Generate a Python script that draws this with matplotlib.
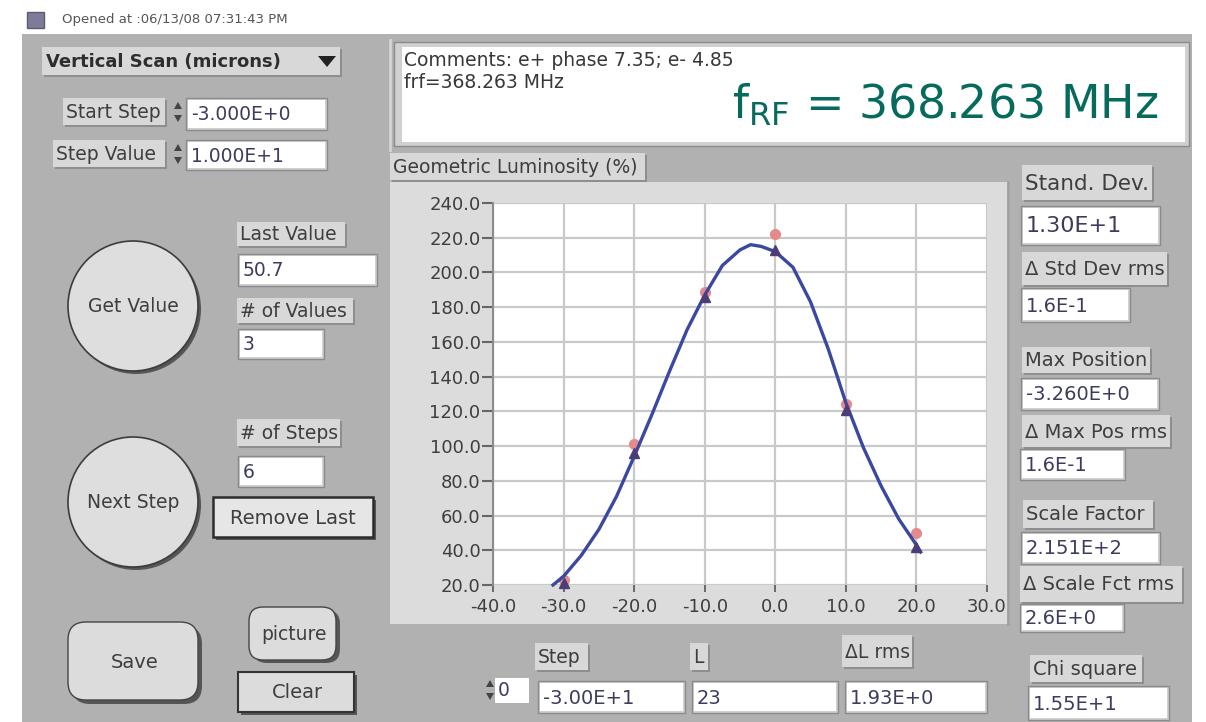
#!/usr/bin/env python3
import matplotlib
matplotlib.use("Agg")
import matplotlib.pyplot as plt
from matplotlib.patches import Rectangle, Circle, FancyBboxPatch, Polygon

plt.rcParams['font.family'] = ['DejaVu Sans']
plt.rcParams['axes.unicode_minus'] = False

# scan data
step_pos   = [-30, -20, -10, 0, 10, 20]
lum_meas   = [23, 101, 189, 222, 124, 50]    # red circles
lum_points = [21, 96, 186, 213, 121, 42]     # dark triangles

# fitted curve
fit_x = [-31.5, -30, -27.5, -25, -22.5, -20, -17.5, -15, -12.5, -10, -7.5, -5,
         -3.5, -2, 0, 2.5, 5, 7.5, 10, 12.5, 15, 17.5, 20, 20.6]
fit_y = [20, 25, 37, 52, 71, 94, 118, 143, 167, 187, 204, 213,
         216, 215, 212, 203, 183, 156, 125, 99, 77, 58, 43, 39]

x_ticks = [-40, -30, -20, -10, 0, 10, 20, 30]
y_ticks = [20, 40, 60, 80, 100, 120, 140, 160, 180, 200, 220, 240]

GRAY = '#b1b1b1'
LABEL = '#d8d8d8'
TXT = '#3e3e3e'
VAL = '#3c3c5e'
FS = 13.5


def label_box(ax, x0, y0, x1, y1, text, fs=FS):
    ax.add_patch(Rectangle((x0 + 2, y0 + 2), x1 - x0, y1 - y0, fc='#8e8e8e', ec='none'))
    box = Rectangle((x0, y0), x1 - x0, y1 - y0, fc=LABEL, ec='none')
    ax.add_patch(box)
    t = ax.text(x0 + 3, (y0 + y1) / 2 + 1, text, fontsize=fs, color=TXT, ha='left', va='center')
    t.set_clip_path(box)


def field(ax, x0, y0, x1, y1, text, fs=FS):
    ax.add_patch(Rectangle((x0 - 2, y0 - 2), x1 - x0 + 4, y1 - y0 + 4, fc='#d0d0d0', ec='#8a8a8a', lw=1))
    box = Rectangle((x0, y0), x1 - x0, y1 - y0, fc='white', ec='none')
    ax.add_patch(box)
    t = ax.text(x0 + 3, (y0 + y1) / 2 + 1, text, fontsize=fs, color=VAL, ha='left', va='center')
    t.set_clip_path(box)


def spinner(ax, x, yc):
    ax.add_patch(Polygon([[x, yc - 3], [x + 8, yc - 3], [x + 4, yc - 10]], closed=True, fc='#444', ec='none'))
    ax.add_patch(Polygon([[x, yc + 3], [x + 8, yc + 3], [x + 4, yc + 10]], closed=True, fc='#444', ec='none'))


fig = plt.figure(figsize=(12.06, 7.22), dpi=100)
fig.patch.set_facecolor('white')
ui = fig.add_axes([0, 0, 1, 1])
ui.set_xlim(0, 1206)
ui.set_ylim(722, 0)
ui.axis('off')

# header strip
ui.add_patch(Rectangle((27, 12), 17, 16, fc='#7c7c98', ec='#5a5a70', lw=1))
ui.text(62, 20, 'Opened at :06/13/08 07:31:43 PM', fontsize=9.5, color='#555', va='center')

# main panel
ui.add_patch(Rectangle((22, 34), 1170, 700, fc=GRAY, ec='none'))
ui.plot([390, 390], [40, 150], color='#d4d4d4', lw=2)

# top-left controls
ui.add_patch(Rectangle((44, 49), 298, 28, fc='#8e8e8e', ec='none'))
ui.add_patch(Rectangle((42, 47), 298, 28, fc=LABEL, ec='none'))
ui.text(46, 62, 'Vertical Scan (microns)', fontsize=13, fontweight='bold', color='#2e2e2e', va='center')
ui.add_patch(Polygon([[318, 56], [336, 56], [327, 67]], closed=True, fc='#222', ec='none'))

label_box(ui, 63, 98, 165, 125, 'Start Step')
spinner(ui, 174, 112)
field(ui, 188, 100, 325, 128, '-3.000E+0')
label_box(ui, 53, 140, 165, 167, 'Step Value')
spinner(ui, 174, 154)
field(ui, 188, 142, 325, 168, '1.000E+1')

label_box(ui, 237, 222, 345, 246, 'Last Value')
field(ui, 240, 256, 375, 284, '50.7')
label_box(ui, 237, 298, 353, 323, '# of Values')
field(ui, 240, 331, 322, 357, '3')
label_box(ui, 237, 419, 340, 446, '# of Steps')
field(ui, 240, 458, 322, 485, '6')

# round buttons
for cy, txt in [(306, 'Get Value'), (502, 'Next Step')]:
    ui.add_patch(Circle((136, cy + 3), 65, fc='#555', ec='none'))
    ui.add_patch(Circle((133, cy), 65, fc='#dedede', ec='#3c3c3c', lw=1.2))
    ui.text(133, cy, txt, fontsize=FS, color=TXT, ha='center', va='center')

ui.add_patch(Rectangle((216, 500), 160, 40, fc='#555', ec='none'))
ui.add_patch(Rectangle((213, 497), 160, 40, fc='#e6e6e6', ec='#2c2c2c', lw=1.8))
ui.text(293, 518, 'Remove Last', fontsize=14, color=TXT, ha='center', va='center')

ui.add_patch(FancyBboxPatch((72, 626), 130, 78, boxstyle='round,pad=0,rounding_size=18', fc='#555', ec='none'))
ui.add_patch(FancyBboxPatch((68, 622), 130, 78, boxstyle='round,pad=0,rounding_size=18', fc='#dcdcdc', ec='#444', lw=1))
ui.text(135, 662, 'Save', fontsize=14, color=TXT, ha='center', va='center')
ui.add_patch(FancyBboxPatch((253, 610), 87, 53, boxstyle='round,pad=0,rounding_size=14', fc='#555', ec='none'))
ui.add_patch(FancyBboxPatch((249, 607), 87, 53, boxstyle='round,pad=0,rounding_size=14', fc='#dcdcdc', ec='#444', lw=1))
ui.text(294, 634, 'picture', fontsize=FS, color=TXT, ha='center', va='center')
ui.add_patch(Rectangle((241, 675), 116, 40, fc='#555', ec='none'))
ui.add_patch(Rectangle((238, 672), 116, 40, fc='#dcdcdc', ec='#333', lw=1.5))
ui.text(297, 693, 'Clear', fontsize=14, color=TXT, ha='center', va='center')

# comments box
ui.add_patch(Rectangle((394, 42), 795, 104, fc='#d0d0d0', ec='#8a8a8a', lw=1))
ui.add_patch(Rectangle((402, 47), 783, 95, fc='white', ec='none'))
ui.text(404, 61, 'Comments: e+ phase 7.35; e- 4.85', fontsize=FS, color='#383838', va='center')
ui.text(404, 83, 'frf=368.263 MHz', fontsize=FS, color='#383838', va='center')
ui.text(732, 118, r'$\mathrm{f}_{\mathrm{RF}}$ = 368.263 MHz', fontsize=33, color='#066b5d',
        ha='left', va='baseline')

# graph frame
label_box(ui, 390, 153, 645, 180, 'Geometric Luminosity (%)')
ui.add_patch(Rectangle((390, 182), 620, 442, fc='#dcdcdc', ec='none'))
ui.plot([1008, 1008], [182, 624], color='#a0a0a0', lw=2)

# right column readouts
label_box(ui, 1022, 165, 1152, 200, 'Stand. Dev.', fs=15.5)
field(ui, 1023, 208, 1158, 243, '1.30E+1', fs=16)
label_box(ui, 1022, 252, 1167, 285, '\u0394 Std Dev rms', fs=14)
field(ui, 1023, 290, 1128, 320, '1.6E-1', fs=14)
label_box(ui, 1022, 347, 1150, 373, 'Max Position', fs=14)
field(ui, 1023, 380, 1157, 408, '-3.260E+0', fs=14)
label_box(ui, 1022, 415, 1170, 447, '\u0394 Max Pos rms', fs=14)
field(ui, 1022, 451, 1123, 478, '1.6E-1', fs=14)
label_box(ui, 1023, 500, 1153, 528, 'Scale Factor', fs=14)
field(ui, 1023, 534, 1158, 562, '2.151E+2', fs=14)
label_box(ui, 1020, 566, 1182, 602, '\u0394 Scale Fct rms', fs=14)
field(ui, 1022, 606, 1122, 630, '2.6E+0', fs=14)
label_box(ui, 1030, 655, 1142, 682, 'Chi square', fs=14)
field(ui, 1030, 688, 1167, 718, '1.55E+1', fs=14)

# bottom readouts
spinner(ui, 486, 690)
ui.add_patch(Rectangle((495, 678), 34, 25, fc='white', ec='none'))
ui.text(498, 691, '0', fontsize=FS, color=VAL, va='center')
label_box(ui, 535, 643, 588, 670, 'Step')
field(ui, 540, 683, 683, 711, '-3.00E+1', fs=14)
label_box(ui, 690, 643, 708, 670, 'L')
field(ui, 694, 683, 836, 711, '23', fs=14)
label_box(ui, 842, 635, 912, 667, '\u0394L rms')
field(ui, 847, 683, 985, 711, '1.93E+0', fs=14)

# luminosity plot
ax = fig.add_axes([493 / 1206, 1 - 585 / 722, (987 - 493) / 1206, (585 - 203) / 722])
ax.set_facecolor('white')
ax.set_xlim(-40, 30)
ax.set_ylim(20, 240)
ax.set_xticks(x_ticks)
ax.set_yticks(y_ticks)
ax.set_xticklabels(['%.1f' % v for v in x_ticks])
ax.set_yticklabels(['%.1f' % v for v in y_ticks])
ax.grid(True, color='#c9c9c9', lw=1.6)
ax.set_axisbelow(True)
for s in ['top', 'right', 'bottom']:
    ax.spines[s].set_visible(False)
ax.spines['left'].set_color('#8c8c8c')
ax.spines['left'].set_linewidth(1.5)
ax.tick_params(axis='y', direction='out', length=8, width=1.5, color='#666', labelsize=13,
               labelcolor='#3e3e3e', pad=1)
ax.tick_params(axis='x', direction='out', length=5, width=1.2, color='#555', labelsize=13,
               labelcolor='#3e3e3e', pad=4)

ax.plot(step_pos, lum_meas, 'o', color='#e58a8a', ms=7, zorder=3, clip_on=False)
ax.plot(fit_x, fit_y, '-', color='#3b48a0', lw=2.4, zorder=4, clip_on=False,
        solid_joinstyle='round')
ax.plot(step_pos, lum_points, '^', color='#4c3c78', ms=7, zorder=5, clip_on=False)

fig.savefig('out.png', dpi=100, facecolor='white')
